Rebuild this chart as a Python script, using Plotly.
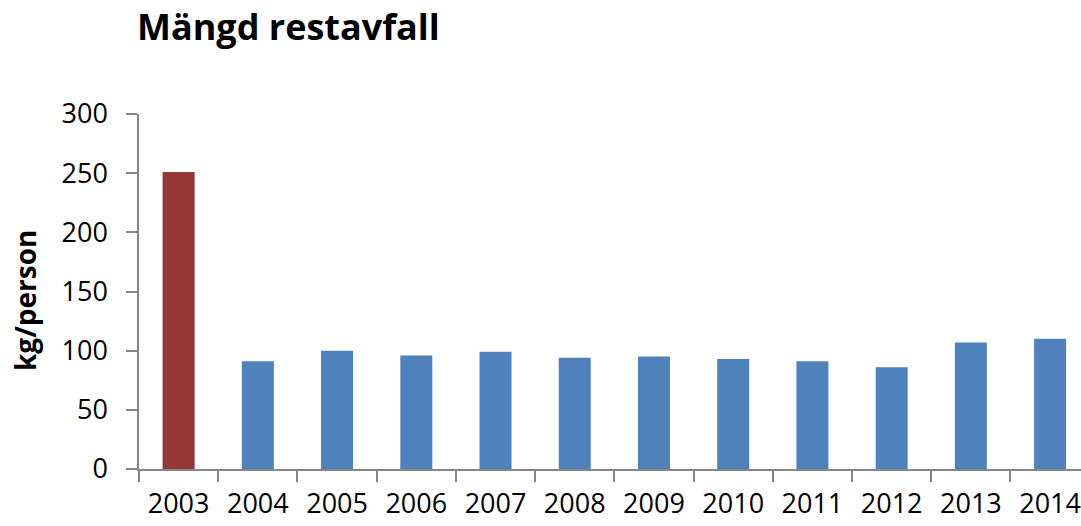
import plotly.graph_objects as go

# data
years = ["2003", "2004", "2005", "2006", "2007", "2008",
         "2009", "2010", "2011", "2012", "2013", "2014"]
kg_per_person = [251, 91, 100, 96, 99, 94, 95, 93, 91, 86, 107, 110]
bar_colors = ["#953735"] + ["#4F81BD"] * 11

W, H = 1081, 526
left, top, bottom = 139, 114, 57

fig = go.Figure()
fig.add_trace(go.Bar(
    x=years,
    y=kg_per_person,
    marker=dict(color=bar_colors, line=dict(width=0)),
    hoverinfo="x+y",
))

axis_grey = "#868686"

fig.update_layout(
    width=W, height=H,
    margin=dict(l=left, r=0, t=top, b=bottom, pad=0),
    paper_bgcolor="white",
    plot_bgcolor="white",
    showlegend=False,
    bargap=0.596,
    font=dict(family="Open Sans, sans-serif", color="black"),
    title=dict(
        text="<b>Mängd restavfall</b>",
        font=dict(size=36, family="Open Sans, sans-serif", color="black"),
        xref="container", x=137 / W, xanchor="left",
        yref="container", y=1 - 15 / H, yanchor="top",
    ),
    xaxis=dict(
        type="category",
        range=[-0.5, 11.39],
        automargin=False,
        showline=True, linecolor=axis_grey, linewidth=1.5,
        ticks="outside", ticklen=11, tickcolor=axis_grey, tickwidth=1.5,
        tickson="boundaries",
        showgrid=False,
        tickfont=dict(size=27),
        ticklabelstandoff=10,
    ),
    yaxis=dict(
        range=[0, 300],
        dtick=50,
        automargin=False,
        showline=True, linecolor=axis_grey, linewidth=1.5,
        ticks="outside", ticklen=11, tickcolor=axis_grey, tickwidth=1.5,
        showgrid=False,
        zeroline=False,
        tickfont=dict(size=27),
        ticklabelstandoff=13,
    ),
    annotations=[dict(
        text="<b>kg/person</b>",
        textangle=-90,
        font=dict(size=28, family="Open Sans, sans-serif", color="black"),
        xref="paper", x=(25 - left) / (W - left), xanchor="center",
        yref="paper", y=(469 - 301) / (469 - top), yanchor="middle",
        showarrow=False,
    )],
)

# drop the default 8px body margin so the figure sits at the page corner
fig.write_html("out.html", config={"displayModeBar": False},
               post_script="document.body.style.margin='0px';")
